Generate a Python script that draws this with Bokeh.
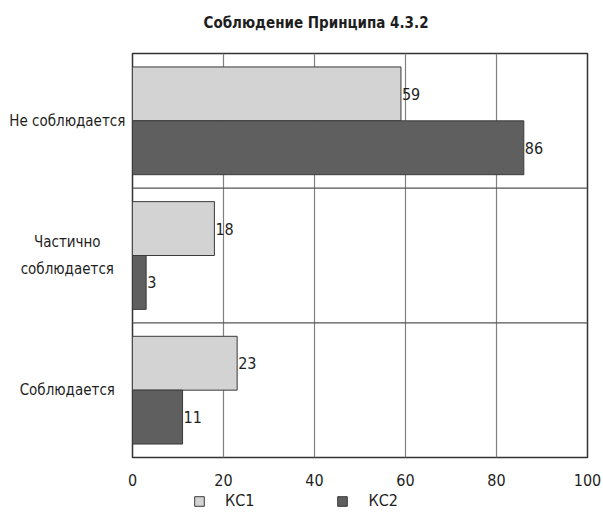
from bokeh.plotting import figure
from bokeh.layouts import column, row
from bokeh.models import (FactorRange, Range1d, FixedTicker, Span, Legend, LegendItem,
                          ColumnDataSource, Label)
from bokeh.transform import dodge
from bokeh.core.properties import value
from bokeh.embed import file_html
from bokeh.resources import INLINE

# ---- data ----
categories = ["Соблюдается", "Частично соблюдается", "Не соблюдается"]
category_labels = ["Соблюдается", "Частично\nсоблюдается", "Не соблюдается"]
kc1 = [23, 18, 59]
kc2 = [11, 3, 86]
series_names = ["КС1", "КС2"]
x_ticks = [0, 20, 40, 60, 80, 100]
title_text = "Соблюдение Принципа 4.3.2"

FONT = "'DejaVu Sans Condensed', Roboto"
LIGHT = "#d3d3d3"
DARK = "#5f5f5f"
EDGE = "#3a3a3a"
TXT = "#1e1e1e"

src = ColumnDataSource(dict(
    cat=categories, label=category_labels, kc1=kc1, kc2=kc2,
    kc1_txt=[str(v) for v in kc1], kc2_txt=[str(v) for v in kc2],
))

y_range = FactorRange(factors=categories, range_padding=0)


def strip(height):
    f = figure(width=603, height=height, x_range=Range1d(0, 1), y_range=Range1d(0, 1),
               output_backend="svg", toolbar_location=None,
               min_border_left=0, min_border_right=0, min_border_top=0, min_border_bottom=0)
    f.axis.visible = False
    f.grid.visible = False
    f.outline_line_color = None
    return f


# ---------------- title strip ----------------
tp = strip(40)
tp.add_layout(Label(x=203, y=18, x_units="screen", y_units="screen", text=title_text,
                    text_font=FONT, text_font_size="15px", text_font_style="bold",
                    text_color=TXT, text_baseline="middle", text_align="left"))

# ---------------- main plot ----------------
p = figure(
    width=477, height=449,
    y_range=y_range, x_range=Range1d(0, 100),
    output_backend="svg", toolbar_location=None,
    min_border_left=6, min_border_right=16, min_border_top=13, min_border_bottom=32,
)

r1 = p.hbar(y=dodge("cat", 0.2, range=y_range), left=0, right="kc1", height=0.4,
            fill_color=LIGHT, line_color=EDGE, line_width=1, source=src)
r2 = p.hbar(y=dodge("cat", -0.2, range=y_range), left=0, right="kc2", height=0.4,
            fill_color=DARK, line_color=EDGE, line_width=1, source=src)

p.text(x="kc1", y=dodge("cat", 0.2, range=y_range), text="kc1_txt", x_offset=1,
       text_baseline="middle", text_align="left", text_font=value(FONT),
       text_font_size="16px", text_color=TXT, source=src)
p.text(x="kc2", y=dodge("cat", -0.2, range=y_range), text="kc2_txt", x_offset=1,
       text_baseline="middle", text_align="left", text_font=value(FONT),
       text_font_size="16px", text_color=TXT, source=src)

# category boundaries
for i in range(1, len(categories)):
    p.add_layout(Span(location=i, dimension="width", line_color="#555555", line_width=1.2))

p.xaxis.ticker = FixedTicker(ticks=x_ticks)
p.xaxis.major_tick_line_color = None
p.xaxis.minor_tick_line_color = None
p.xaxis.axis_line_color = None
p.xaxis.major_label_text_font = FONT
p.xaxis.major_label_text_font_size = "16px"
p.xaxis.major_label_text_color = TXT
p.xaxis.major_label_standoff = 10
p.yaxis.visible = False

p.xgrid.grid_line_color = "#808080"
p.xgrid.grid_line_width = 1.2
p.ygrid.grid_line_color = None

p.outline_line_color = "#333333"
p.outline_line_width = 1.5

# ---------------- category labels (left) ----------------
lp = figure(
    width=126, height=449, y_range=y_range, x_range=Range1d(0, 1),
    output_backend="svg", toolbar_location=None,
    min_border_left=0, min_border_right=0, min_border_top=13, min_border_bottom=32,
)
lp.text(x=0.53, y="cat", text="label", text_align="center", text_baseline="middle",
        text_font=value(FONT), text_font_size="15px", text_color=TXT,
        text_line_height=1.55, source=src)
lp.axis.visible = False
lp.grid.visible = False
lp.outline_line_color = None

# ---------------- legend strip (bottom) ----------------
gp = strip(28)
# zero-size proxies lying outside this strip's ranges, used only for the legend swatches
g1 = gp.hbar(y="kc1", left="kc1", right="kc1", height=0, fill_color=LIGHT, line_color=EDGE,
             line_width=1, source=src)
g2 = gp.hbar(y="kc2", left="kc2", right="kc2", height=0, fill_color=DARK, line_color=EDGE,
             line_width=1, source=src)
legend = Legend(
    items=[LegendItem(label=series_names[0], renderers=[g1]),
           LegendItem(label=series_names[1], renderers=[g2])],
    orientation="horizontal", location=(193, 7),
    border_line_color=None, background_fill_alpha=0,
    label_text_font=FONT, label_text_font_size="16px", label_text_color=TXT,
    glyph_width=12, glyph_height=12, label_standoff=20, spacing=82,
    padding=0, margin=0,
)
gp.add_layout(legend, "center")

layout = column(tp, row(lp, p), gp)
open("out.html", "w").write(file_html(layout, INLINE))
